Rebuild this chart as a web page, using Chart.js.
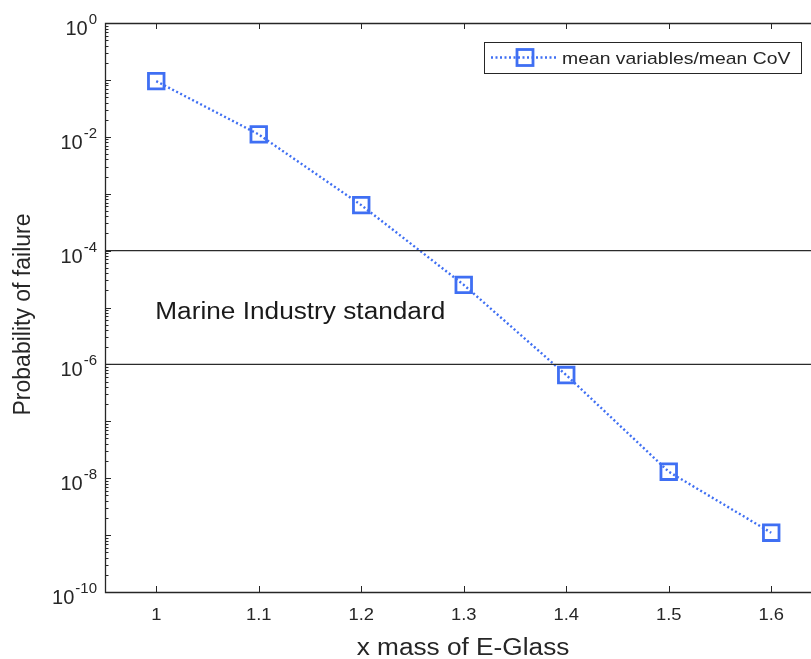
<!DOCTYPE html>
<html>
<head>
<meta charset="utf-8">
<script src="https://cdn.jsdelivr.net/npm/chart.js@4.4.1/dist/chart.umd.min.js"></script>
<style>
  html, body { margin: 0; padding: 0; background: #fff; overflow: hidden; }
  #wrap { width: 811px; height: 659px; }
</style>
</head>
<body>
<div id="wrap"><canvas id="chart" width="811" height="659"></canvas></div>
<script>
// data
const massFactor = [1, 1.1, 1.2, 1.3, 1.4, 1.5, 1.6];
const probFailure = [9.5e-2, 1.1e-2, 6.3e-4, 2.5e-5, 6.5e-7, 1.3e-8, 1.1e-9];
const standardBounds = [1e-4, 1e-6];
const xTickValues = [1, 1.1, 1.2, 1.3, 1.4, 1.5, 1.6];
const yTickExponents = [0, -2, -4, -6, -8, -10];
const seriesLabel = "mean variables/mean CoV";
const bandLabel = "Marine Industry standard";
const bandLabelPos = [1.0, 8.7e-6];
const xTitle = "x mass of E-Glass";
const yTitle = "Probability of failure";

// the source figure is cropped on the right, just past 1.6
const X_MIN = 0.95, X_MAX = 1.6388;
const Y_MIN = 1e-10, Y_MAX = 1;
const FONT = "'Liberation Sans', Arial, Helvetica, sans-serif";
const AXIS_COLOR = "#262626";
const LINE_BLUE = "#3f6ff3";

// draw text with a horizontal stretch (the source image is a bit wide)
function stretchedText(ctx, text, x, y, sx, align) {
  ctx.save();
  ctx.translate(x, y);
  ctx.scale(sx, 1);
  ctx.textAlign = align || "left";
  ctx.fillText(text, 0, 0);
  ctx.restore();
}

const matlabAxes = {
  id: "matlabAxes",
  beforeDraw(chart) {
    const ctx = chart.ctx;
    ctx.save();
    ctx.fillStyle = "#fff";
    ctx.fillRect(0, 0, chart.width, chart.height);
    ctx.restore();
  },
  afterDatasetsDraw(chart) {
    const ctx = chart.ctx;
    const { left, right, top, bottom } = chart.chartArea;
    const xs = chart.scales.x, ys = chart.scales.y;
    ctx.save();

    // box (right side is cropped off in the source)
    ctx.strokeStyle = AXIS_COLOR;
    ctx.lineWidth = 1.3;
    ctx.beginPath();
    ctx.moveTo(right, top + 0.5);
    ctx.lineTo(left + 0.5, top + 0.5);
    ctx.lineTo(left + 0.5, bottom + 0.5);
    ctx.lineTo(right, bottom + 0.5);
    ctx.stroke();

    // x ticks, inward on top and bottom
    ctx.lineWidth = 1;
    ctx.beginPath();
    xTickValues.forEach(v => {
      const px = Math.round(xs.getPixelForValue(v)) + 0.5;
      ctx.moveTo(px, bottom); ctx.lineTo(px, bottom - 6);
      ctx.moveTo(px, top); ctx.lineTo(px, top + 6);
    });
    // y ticks, major each decade, minor 2..9
    for (let e = -10; e <= 0; e++) {
      const py = Math.round(ys.getPixelForValue(Math.pow(10, e))) + 0.5;
      ctx.moveTo(left, py); ctx.lineTo(left + 6, py);
      if (e < 0) {
        for (let m = 2; m <= 9; m++) {
          const pm = Math.round(ys.getPixelForValue(m * Math.pow(10, e))) + 0.5;
          ctx.moveTo(left, pm); ctx.lineTo(left + 3.5, pm);
        }
      }
    }
    ctx.stroke();

    // tick labels
    ctx.fillStyle = AXIS_COLOR;
    ctx.textBaseline = "alphabetic";
    ctx.font = "17px " + FONT;
    xTickValues.forEach(v => {
      stretchedText(ctx, String(v), xs.getPixelForValue(v), 620, 1.08, "center");
    });
    yTickExponents.forEach(e => {
      const py = ys.getPixelForValue(Math.pow(10, e));
      const sup = String(e);
      ctx.font = "15px " + FONT;
      const supW = ctx.measureText(sup).width;
      ctx.font = "20px " + FONT;
      const baseW = ctx.measureText("10").width;
      const rightEdge = 97;
      ctx.textAlign = "left";
      ctx.fillText("10", rightEdge - supW - baseW - 1, py + 12);
      ctx.font = "15px " + FONT;
      ctx.fillText(sup, rightEdge - supW, py + 1);
    });

    // axis titles
    ctx.font = "23px " + FONT;
    stretchedText(ctx, xTitle, 463, 655, 1.14, "center");
    ctx.save();
    ctx.translate(30, (top + bottom) / 2 + 7);
    ctx.rotate(-Math.PI / 2);
    ctx.textAlign = "center";
    ctx.fillText(yTitle, 0, 0);
    ctx.restore();

    // band label
    ctx.font = "23px " + FONT;
    ctx.fillStyle = "#1a1a1a";
    stretchedText(ctx, bandLabel, xs.getPixelForValue(bandLabelPos[0]) - 1,
      ys.getPixelForValue(bandLabelPos[1]) + 8, 1.14, "left");

    // legend
    const lx = 484, ly = 42, lw = 317, lh = 31;
    ctx.fillStyle = "#fff";
    ctx.fillRect(lx, ly, lw, lh);
    ctx.strokeStyle = AXIS_COLOR;
    ctx.lineWidth = 1;
    ctx.strokeRect(lx + 0.5, ly + 0.5, lw, lh);
    const cy = ly + lh / 2;
    ctx.strokeStyle = LINE_BLUE;
    ctx.lineWidth = 2.4;
    ctx.setLineDash([2, 2.5]);
    ctx.beginPath();
    ctx.moveTo(491, cy); ctx.lineTo(556, cy);
    ctx.stroke();
    ctx.setLineDash([]);
    ctx.lineWidth = 2.8;
    ctx.strokeRect(517, cy - 8, 16, 16);
    ctx.fillStyle = AXIS_COLOR;
    ctx.font = "17px " + FONT;
    stretchedText(ctx, seriesLabel, 562, cy + 6, 1.14, "left");

    ctx.restore();
  }
};

const boundDatasets = standardBounds.map(b => ({
  label: "bound " + b,
  data: [{ x: X_MIN, y: b }, { x: X_MAX, y: b }],
  borderColor: "#2b2b2b",
  borderWidth: 1.4,
  pointRadius: 0,
  fill: false
}));

new Chart(document.getElementById("chart"), {
  type: "line",
  data: {
    datasets: [
      ...boundDatasets,
      {
        label: seriesLabel,
        data: massFactor.map((x, i) => ({ x: x, y: probFailure[i] })),
        borderColor: LINE_BLUE,
        borderWidth: 2.4,
        borderDash: [2, 2.5],
        pointStyle: "rect",
        pointRadius: 11,
        pointBorderWidth: 2.8,
        pointBorderColor: LINE_BLUE,
        pointBackgroundColor: "rgba(0,0,0,0)",
        fill: false
      }
    ]
  },
  options: {
    responsive: false,
    animation: false,
    layout: { autoPadding: false, padding: { left: 105, top: 23, right: 0, bottom: 67 } },
    scales: {
      x: { type: "linear", min: X_MIN, max: X_MAX, display: false },
      y: { type: "logarithmic", min: Y_MIN, max: Y_MAX, display: false }
    },
    plugins: {
      legend: { display: false },
      tooltip: { enabled: false }
    }
  },
  plugins: [matlabAxes]
});
</script>
</body>
</html>
